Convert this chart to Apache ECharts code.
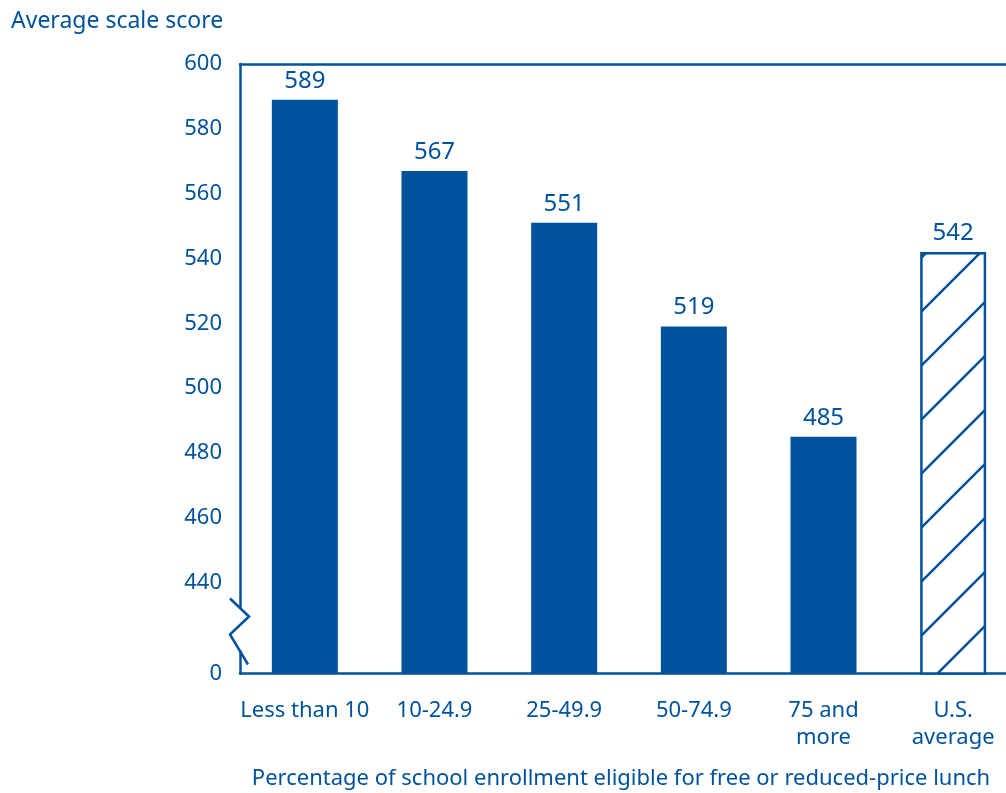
<!DOCTYPE html>
<html>
<head>
<meta charset="utf-8">
<script src="https://cdn.jsdelivr.net/npm/echarts@6/dist/echarts.min.js"></script>
<style>
html,body{margin:0;padding:0;background:#fff;}
#chart{width:1006px;height:793px;}
</style>
</head>
<body>
<div id="chart"></div>
<script>
// ---- data ----
var categories = ['Less than 10', '10-24.9', '25-49.9', '50-74.9', '75 and\nmore', 'U.S.\naverage'];
var scores = [589, 567, 551, 519, 485, 542];
var yTickValues = [440, 460, 480, 500, 520, 540, 560, 580, 600];
var yBreakBase = 412;   // axis bottom (shown as "0", axis is broken)
var yMax = 600;
var yAxisTitle = 'Average scale score';
var xAxisTitle = 'Percentage of school enrollment eligible for free or reduced-price lunch';

var BLUE = '#00529c';
var FONT = 'Noto Sans';

// hatch pattern for the U.S. average bar
var tile = document.createElement('canvas');
tile.width = 54; tile.height = 54;
var tc = tile.getContext('2d');
tc.fillStyle = '#ffffff';
tc.fillRect(0, 0, 54, 54);
tc.strokeStyle = BLUE;
tc.lineWidth = 2.5;
tc.beginPath();
tc.moveTo(-10, 55); tc.lineTo(55, -10);
tc.moveTo(35, 64); tc.lineTo(64, 35);
tc.stroke();

var barData = scores.map(function (v, i) {
  if (i === scores.length - 1) {
    return {
      value: v,
      itemStyle: {
        color: { image: tile, repeat: 'repeat' },
        borderColor: BLUE,
        borderWidth: 2.5
      }
    };
  }
  return v;
});

var gridLeft = 240, gridTop = 64, gridBottomPx = 673.5;

var chart = echarts.init(document.getElementById('chart'), null, { renderer: 'canvas' });
var option = {
  animation: false,
  backgroundColor: '#ffffff',
  textStyle: { fontFamily: FONT, color: BLUE },
  grid: { left: gridLeft, width: 778, top: gridTop, bottom: 793 - gridBottomPx,
          containLabel: false, outerBoundsMode: 'none' },
  xAxis: [{
    type: 'category',
    data: categories,
    position: 'bottom',
    axisLine: { show: true, lineStyle: { color: BLUE, width: 2.5 } },
    axisTick: { show: false },
    axisLabel: {
      color: BLUE, fontFamily: FONT, fontSize: 22, lineHeight: 27, margin: 24, interval: 0
    }
  }, {
    type: 'category',
    data: categories,
    position: 'top',
    axisLine: { show: true, lineStyle: { color: BLUE, width: 2.5 } },
    axisTick: { show: false },
    axisLabel: { show: false }
  }],
  yAxis: {
    type: 'value',
    min: yBreakBase,
    max: yMax,
    splitLine: { show: false },
    axisLine: { show: true, lineStyle: { color: BLUE, width: 2.5 } },
    axisTick: { show: false },
    axisLabel: {
      color: BLUE, fontFamily: FONT, fontSize: 22, margin: 18,
      customValues: [yBreakBase].concat(yTickValues),
      formatter: function (v) { return v === yBreakBase ? '0' : String(v); }
    }
  },
  series: [{
    type: 'bar',
    data: barData,
    barWidth: 66,
    itemStyle: { color: BLUE },
    label: {
      show: true, position: 'top', distance: 7,
      color: BLUE, fontFamily: FONT, fontSize: 24
    }
  }],
  graphic: [
    { type: 'text', left: 11, top: 10,
      style: { text: yAxisTitle, fill: BLUE, font: '23px "' + FONT + '"' } },
    { type: 'text', x: 621, y: 779,
      style: { text: xAxisTitle, fill: BLUE, font: '22px "' + FONT + '"', align: 'center', verticalAlign: 'middle' } },
    // axis break: hide the axis line segment and draw the zigzag
    { type: 'rect', shape: { x: gridLeft - 4, y: gridBottomPx - 65, width: 8, height: 42 },
      style: { fill: '#ffffff' }, z: 100 },
    { type: 'polyline', z: 101,
      shape: { points: [
        [gridLeft - 10, gridBottomPx - 75],
        [gridLeft + 9, gridBottomPx - 57],
        [gridLeft - 10, gridBottomPx - 39],
        [gridLeft + 8, gridBottomPx - 9]
      ] },
      style: { stroke: BLUE, lineWidth: 2.5, fill: null } }
  ]
};
chart.setOption(option);
</script>
</body>
</html>
